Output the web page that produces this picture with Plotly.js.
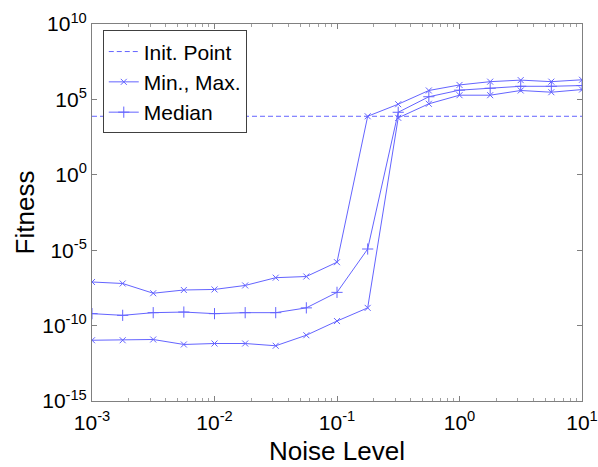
<!DOCTYPE html>
<html>
<head>
<meta charset="utf-8">
<script src="https://cdn.plot.ly/plotly-3.0.1.min.js"></script>
<style>html,body{margin:0;padding:0;background:#fff;}#chart{width:598px;height:467px;}</style>
</head>
<body>
<div id="chart"></div>
<script>
// Noise levels (x)
var noiseLevels = [0.001, 0.00178, 0.00316, 0.00562, 0.01, 0.0178, 0.0316, 0.0562, 0.1, 0.178, 0.316, 0.562, 1, 1.78, 3.16, 5.62, 10];
// Fitness values
var maxFitness = [7.8e-8, 6.2e-8, 1.4e-8, 2.3e-8, 2.5e-8, 4.6e-8, 1.5e-7, 1.8e-7, 1.6e-6, 7.6e3, 4.8e4, 3.9e5, 9.1e5, 1.5e6, 1.9e6, 1.5e6, 2.0e6];
var medianFitness = [6.2e-10, 4.8e-10, 7.2e-10, 7.9e-10, 6.2e-10, 7.2e-10, 7.2e-10, 1.5e-9, 1.6e-8, 1.2e-5, 1.4e4, 1.5e5, 4.1e5, 5.5e5, 7.4e5, 7.4e5, 8.3e5];
var minFitness = [1.07e-11, 1.07e-11, 1.2e-11, 5.6e-12, 6.5e-12, 6.5e-12, 4.6e-12, 2.3e-11, 2.0e-10, 1.5e-9, 6.0e3, 5.1e4, 1.9e5, 1.9e5, 3.9e5, 3.0e5, 4.5e5];
var initPoint = 7.6e3;
var initRange = [0.001, 10];
var seriesNames = ["Init. Point", "Min., Max.", "Median"];

// Tick labels
var xTickVals = [0.001, 0.01, 0.1, 1, 10];
var xTickText = ["10<sup>-3</sup>", "10<sup>-2</sup>", "10<sup>-1</sup>", "10<sup>0</sup>", "10<sup>1</sup>"];
var xMinorVals = [0.002, 0.003, 0.004, 0.005, 0.006, 0.007, 0.008, 0.009,
                  0.02, 0.03, 0.04, 0.05, 0.06, 0.07, 0.08, 0.09,
                  0.2, 0.3, 0.4, 0.5, 0.6, 0.7, 0.8, 0.9,
                  2, 3, 4, 5, 6, 7, 8, 9];
var yTickVals = [1e-15, 1e-10, 1e-5, 1, 1e5, 1e10];
var yTickText = ["10<sup>-15</sup>", "10<sup>-10</sup>", "10<sup>-5</sup>", "10<sup>0</sup>", "10<sup>5</sup>", "10<sup>10</sup>"];

var blue = 'rgb(100,100,255)';
var gray = '#808080';
var font = "'Liberation Sans', Arial, sans-serif";

var traces = [
  {x: initRange, y: [initPoint, initPoint], xaxis: 'x2', mode: 'lines', name: seriesNames[0],
   line: {color: blue, width: 1, dash: '5px,3px'}},
  {x: noiseLevels, y: minFitness, mode: 'lines+markers', name: seriesNames[1], legendgroup: 'mm',
   line: {color: blue, width: 1},
   marker: {symbol: 'x-thin', size: 6, line: {color: blue, width: 1}}},
  {x: noiseLevels, y: medianFitness, mode: 'lines+markers', name: seriesNames[2],
   line: {color: blue, width: 1},
   marker: {symbol: 'cross-thin', size: 8, line: {color: blue, width: 1}}},
  {x: noiseLevels, y: maxFitness, mode: 'lines+markers', name: seriesNames[1], legendgroup: 'mm', showlegend: false,
   line: {color: blue, width: 1},
   marker: {symbol: 'x-thin', size: 6, line: {color: blue, width: 1}}}
];

var layout = {
  width: 598, height: 467,
  margin: {l: 92, r: 16, t: 24, b: 66},
  paper_bgcolor: '#fff', plot_bgcolor: '#fff',
  font: {family: font, color: '#000', size: 20},
  showlegend: true,
  legend: {x: 0.022, y: 0.983, xanchor: 'left', yanchor: 'top',
           bgcolor: '#fff', bordercolor: '#404040', borderwidth: 1,
           font: {family: font, size: 21, color: '#000'}, tracegroupgap: 0},
  xaxis: {
    type: 'log', range: [-3, 1], tickmode: 'array', tickvals: xTickVals, ticktext: xTickText,
    showgrid: false, zeroline: false,
    showline: true, linecolor: gray, linewidth: 1, mirror: 'ticks',
    ticks: 'inside', ticklen: 5, tickcolor: gray, ticklabelstandoff: 3,
    tickfont: {family: font, size: 21, color: '#000'},
    title: {text: 'Noise Level', font: {family: font, size: 26, color: '#000'}, standoff: 8}
  },
  xaxis2: {
    type: 'log', range: [-3, 1], overlaying: 'x', anchor: 'y', side: 'bottom',
    tickmode: 'array', tickvals: xMinorVals, showticklabels: false,
    showgrid: false, zeroline: false,
    showline: true, linecolor: gray, linewidth: 1, mirror: 'ticks',
    ticks: 'inside', ticklen: 3, tickcolor: '#a0a0a0'
  },
  yaxis: {
    type: 'log', range: [-15, 10], tickmode: 'array', tickvals: yTickVals, ticktext: yTickText,
    showgrid: false, zeroline: false,
    showline: true, linecolor: gray, linewidth: 1, mirror: 'ticks',
    ticks: 'inside', ticklen: 5, tickcolor: gray,
    tickfont: {family: font, size: 21, color: '#000'},
    title: {text: 'Fitness', font: {family: font, size: 26, color: '#000'}, standoff: 0}
  }
};

Plotly.newPlot('chart', traces, layout, {displayModeBar: false, staticPlot: true});
</script>
</body>
</html>
